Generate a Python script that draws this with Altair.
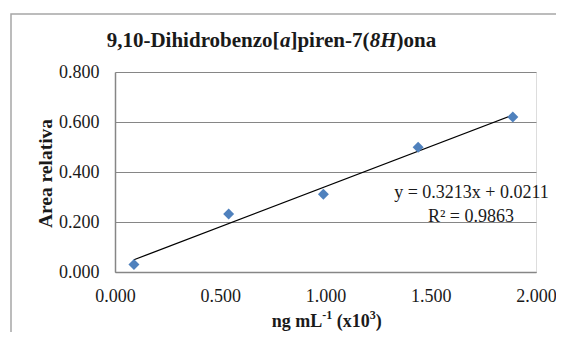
import altair as alt
import pandas as pd

# Data
conc = [0.09, 0.54, 0.99, 1.44, 1.89]
area = [0.030, 0.232, 0.311, 0.499, 0.620]
slope = 0.3213
intercept = 0.0211
r2 = 0.9863

x_ticks = [0.0, 0.5, 1.0, 1.5, 2.0]
y_ticks = [0.0, 0.2, 0.4, 0.6, 0.8]

df = pd.DataFrame({"conc": conc, "area": area})
one = pd.DataFrame({"k": [0]})  # single row for annotation marks

SERIF = "Liberation Serif"
GRAY = "#868686"
TXT = "#1a1a1a"

W, H = 421, 200

xs = alt.Scale(domain=[0, 2], nice=False)
ys = alt.Scale(domain=[0, 0.8], nice=False)

base = alt.Chart(df)

points = base.mark_point(shape="diamond", filled=True, size=120, color="#4F81BD", opacity=1).encode(
    x=alt.X("conc:Q", scale=xs,
            axis=alt.Axis(values=x_ticks, format=".3f", grid=False, ticks=False,
                          domainColor=GRAY, domainWidth=1.5, labelFlush=False,
                          labelFont=SERIF, labelFontSize=18, labelColor=TXT,
                          labelFontWeight="normal",
                          labelPadding=15, title=None)),
    y=alt.Y("area:Q", scale=ys,
            axis=alt.Axis(values=y_ticks, format=".3f", grid=True, gridColor=GRAY, gridWidth=1,
                          ticks=False, domainColor=GRAY, domainWidth=1.5, labelFlush=False,
                          labelFont=SERIF, labelFontSize=18, labelColor=TXT,
                          labelFontWeight="normal",
                          labelPadding=16,
                          title="Area relativa", titleFont=SERIF, titleFontSize=19.5,
                          titleFontWeight="bold", titleColor=TXT,
                          titleAngle=270, titleX=-64, titleY=101,
                          titleAlign="center", titleBaseline="alphabetic")),
)

trend = base.transform_regression("conc", "area", method="linear").mark_line(
    color="black", strokeWidth=1.3
).encode(x=alt.X("conc:Q", scale=xs), y=alt.Y("area:Q", scale=ys))

# Outer frame
frame = alt.Chart(one).mark_rect(fill=None, stroke="#a6a6a6", strokeWidth=1.5, clip=False).encode(
    x=alt.value(-104), x2=alt.value(600), y=alt.value(-58), y2=alt.value(400)
)

def txt(text, x, y, size, weight="normal", style="normal", align="left"):
    return alt.Chart(one).mark_text(
        text=text, font=SERIF, fontSize=size, fontWeight=weight, fontStyle=style,
        align=align, baseline="alphabetic", color=TXT, clip=False
    ).encode(x=alt.value(x), y=alt.value(y))

# Title with italic parts
ty = -25.5
title_parts = [
    txt("9,10-Dihidrobenzo[", -8.3, ty, 21, "bold"),
    txt("a", 164.95, ty, 21, "bold", "italic"),
    txt("]piren-7(", 175.45, ty, 21, "bold"),
    txt("8H", 254.75, ty, 21, "bold", "italic"),
    txt(")ona", 281.55, ty, 21, "bold"),
]

# x-axis title with superscripts
xy = 254.7
xtitle = [
    txt("ng mL", 156.7, xy, 18, "bold"),
    txt("-1", 207.2, xy - 7.5, 12, "bold"),
    txt("(x10", 221.7, xy, 18, "bold"),
    txt("3", 254.7, xy - 7.5, 12, "bold"),
    txt(")", 260.7, xy, 18, "bold"),
]

eq = [
    txt(f"y = {slope:.4f}x + {intercept:.4f}", 356.5, 125.5, 18, align="center"),
    txt(f"R² = {r2:.4f}", 356, 149.7, 18, align="center"),
]

chart = alt.layer(frame, trend, points, *title_parts, *xtitle, *eq).properties(
    width=W, height=H,
    autosize=alt.AutoSizeParams(type="none"),
    padding={"left": 107, "top": 64, "right": 20, "bottom": 60},
).configure_view(stroke=None).configure(background="white")

chart.save("out.html", embed_options={"renderer": "svg", "actions": False})
